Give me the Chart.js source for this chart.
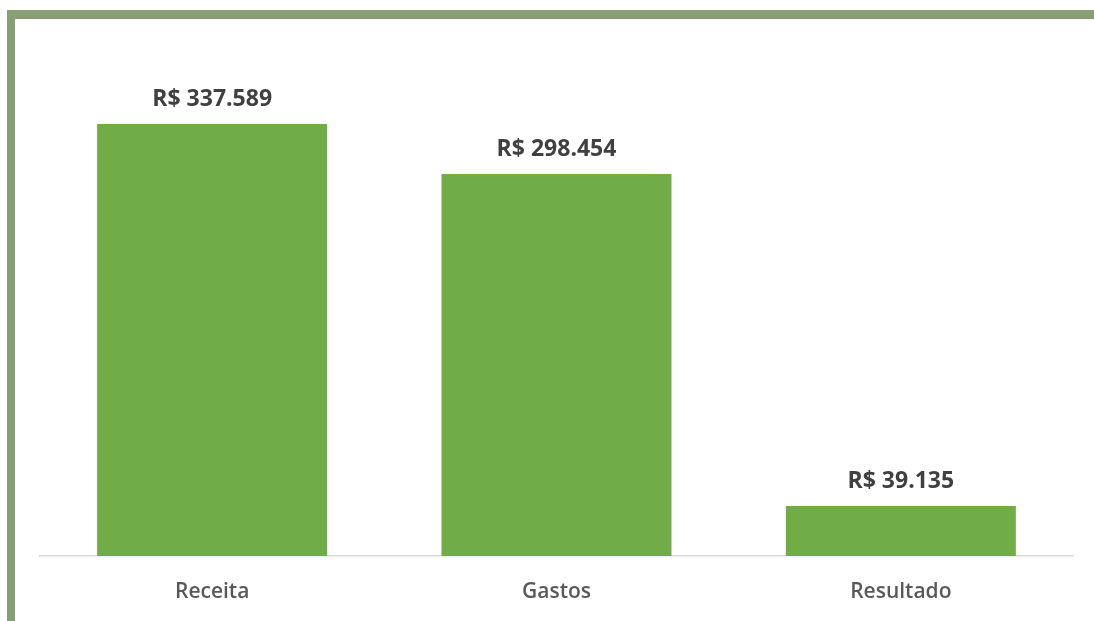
<!DOCTYPE html>
<html>
<head>
<meta charset="utf-8">
<script src="https://cdn.jsdelivr.net/npm/chart.js@4/dist/chart.umd.min.js"></script>
<style>
  html, body { margin: 0; padding: 0; background: #fff; overflow: hidden; }
  .frame {
    position: absolute; left: 7px; top: 10px; right: 0; bottom: 0;
    border-top: 9px solid #889e74;
    border-left: 8px solid #889e74;
  }
  .chart-wrap { position: absolute; left: 0; top: 0; width: 1079px; height: 602px; }
</style>
</head>
<body>
<div class="frame">
  <div class="chart-wrap"><canvas id="chart"></canvas></div>
</div>
<script>
const categories = ['Receita', 'Gastos', 'Resultado'];
const values = [337589, 298454, 39135];
const valueLabels = ['R$ 337.589', 'R$ 298.454', 'R$ 39.135'];

const barColor = '#70ad47';

// draws the value label above each bar
const topLabels = {
  id: 'topLabels',
  afterDatasetsDraw(chart) {
    const c = chart.ctx;
    const meta = chart.getDatasetMeta(0);
    c.save();
    c.font = 'bold 23px "Open Sans"';
    c.fillStyle = '#404040';
    c.textAlign = 'center';
    c.textBaseline = 'alphabetic';
    meta.data.forEach((bar, i) => {
      c.fillText(valueLabels[i], bar.x, bar.y - 18);
    });
    c.restore();
  }
};

const ctx = document.getElementById('chart').getContext('2d');
const chart = new Chart(ctx, {
  type: 'bar',
  data: {
    labels: categories,
    datasets: [{
      data: values,
      backgroundColor: barColor,
      borderWidth: 0,
      categoryPercentage: 1,
      barPercentage: 0.668
    }]
  },
  options: {
    responsive: true,
    maintainAspectRatio: false,
    animation: false,
    layout: { padding: { left: 25, right: 21, top: 25, bottom: 0 } },
    plugins: { legend: { display: false }, tooltip: { enabled: false } },
    scales: {
      x: {
        grid: { display: false },
        border: { display: true, color: '#d9d9d9', width: 1.5 },
        ticks: { color: '#595959', font: { family: 'Open Sans', size: 21, weight: 600 }, padding: 15 },
        afterFit(scale) { scale.height = 65; }
      },
      y: {
        display: false,
        min: 0,
        max: 400000
      }
    }
  },
  plugins: [topLabels]
});
</script>
</body>
</html>
